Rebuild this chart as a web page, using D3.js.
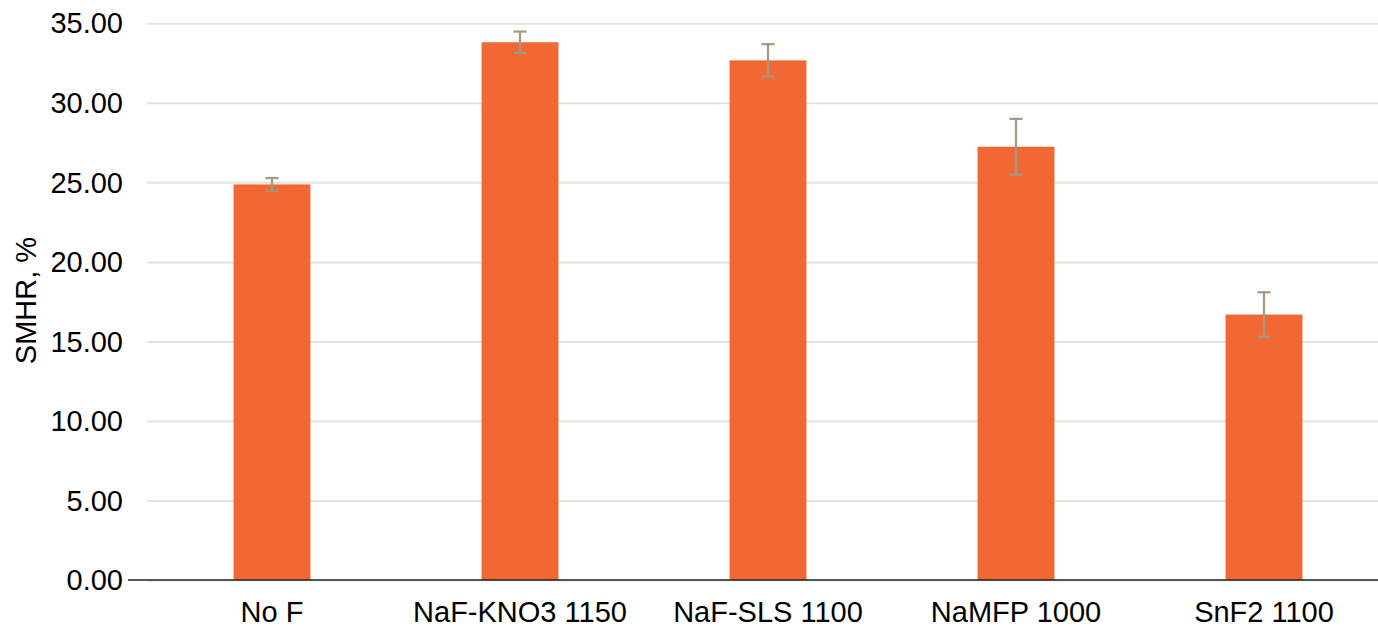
<!DOCTYPE html>
<html>
<head>
<meta charset="utf-8">
<script src="https://cdn.jsdelivr.net/npm/d3@7"></script>
<style>
  html, body { margin: 0; padding: 0; background: #ffffff; }
  svg { display: block; }
  text { font-family: "Liberation Sans", Arial, sans-serif; fill: #000; }
</style>
</head>
<body>
<svg id="chart" width="1378" height="629"></svg>
<script>
const categories = ["No F", "NaF-KNO3 1150", "NaF-SLS 1100", "NaMFP 1000", "SnF2 1100"];
const values = [24.87, 33.81, 32.67, 27.24, 16.69];
const errors = [0.40, 0.67, 1.02, 1.75, 1.40];
const yTicks = [0, 5, 10, 15, 20, 25, 30, 35];
const yLabel = "SMHR, %";

const svg = d3.select("#chart");
const W = 1378, H = 629;

const x = d3.scaleBand().domain(categories).range([148, 1388]).padding(0);
const y = d3.scaleLinear().domain([0, 35]).range([580, 23.3]);
const barW = x.bandwidth() * 0.31;

// gridlines
svg.append("g").selectAll("line").data(yTicks).join("line")
  .attr("x1", 147).attr("x2", W)
  .attr("y1", d => y(d) + 0.5).attr("y2", d => y(d) + 0.5)
  .attr("stroke", "#e5e3dc").attr("stroke-width", 2);

// bars
svg.append("g").selectAll("rect").data(categories).join("rect")
  .attr("x", d => x(d) + x.bandwidth() / 2 - barW / 2)
  .attr("width", barW)
  .attr("y", (d, i) => y(values[i]))
  .attr("height", (d, i) => y(0) - y(values[i]))
  .attr("fill", "#f26835");

// baseline axis
svg.append("line")
  .attr("x1", 128).attr("x2", W)
  .attr("y1", y(0)).attr("y2", y(0))
  .attr("stroke", "#222").attr("stroke-width", 1.5);

// error bars
const eb = svg.append("g").attr("stroke", "#a09a80").attr("stroke-width", 2.2);
categories.forEach((c, i) => {
  const cx = x(c) + x.bandwidth() / 2;
  const top = y(values[i] + errors[i]);
  const bot = y(values[i] - errors[i]);
  eb.append("line").attr("x1", cx).attr("x2", cx).attr("y1", top).attr("y2", bot);
  eb.append("line").attr("x1", cx - 6.5).attr("x2", cx + 6.5).attr("y1", top).attr("y2", top);
  eb.append("line").attr("x1", cx - 6.5).attr("x2", cx + 6.5).attr("y1", bot).attr("y2", bot);
});

// y tick labels
svg.append("g").selectAll("text").data(yTicks).join("text")
  .attr("x", 123).attr("y", d => y(d))
  .attr("dy", "0.35em")
  .attr("text-anchor", "end")
  .attr("font-size", 29)
  .text(d => d.toFixed(2));

// category labels
svg.append("g").selectAll("text").data(categories).join("text")
  .attr("x", d => x(d) + x.bandwidth() / 2)
  .attr("y", 622)
  .attr("text-anchor", "middle")
  .attr("font-size", 29)
  .text(d => d);

// y axis label
svg.append("text")
  .attr("transform", "translate(36,300.5) rotate(-90)")
  .attr("text-anchor", "middle")
  .attr("font-size", 29)
  .text(yLabel);
</script>
</body>
</html>
